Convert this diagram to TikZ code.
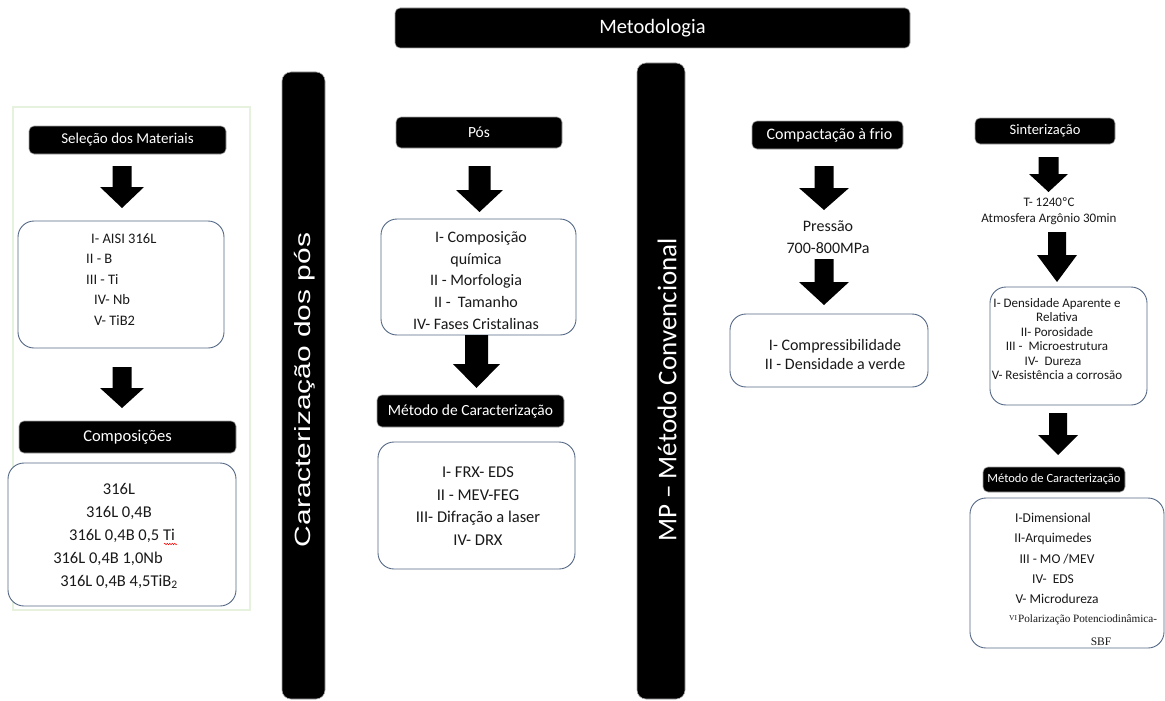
\documentclass[tikz,border=0pt]{standalone}
\usepackage{graphicx}
\usepackage{fontspec}
\setmainfont{Carlito}
\newfontfamily\arialf{Liberation Sans}
\newfontfamily\timesf{Liberation Serif}
\usetikzlibrary{decorations.pathmorphing}
\definecolor{boxc}{RGB}{85,105,135}
\definecolor{panelc}{RGB}{230,242,222}
\definecolor{txtc}{RGB}{25,25,25}
\newcommand\fs[2]{\fontsize{#1pt}{#2pt}\selectfont}
% x, ytop, yhead, ybot, shaft half, head half
\newcommand\blockarr[6]{%
  \fill[black] ({#1-#5},#2) -- ({#1+#5},#2) -- ({#1+#5},#3) -- ({#1+#6},#3)
    -- (#1,#4) -- ({#1-#6},#3) -- ({#1-#5},#3) -- cycle;}
\tikzset{
  blk/.style={fill=black, draw=black!35, line width=0.6pt, rounded corners=5pt,
    text=white, inner sep=0pt},
  rbox/.style={draw=boxc, line width=0.9pt, rounded corners=16pt, fill=white, inner sep=0pt},
  vbar/.style={fill=black, draw=black!35, line width=0.6pt, rounded corners=9pt, inner sep=0pt},
  tx/.style={text=txtc, inner sep=0pt, align=center},
}
\begin{document}
\begin{tikzpicture}[x=1pt,y=-1pt]
\useasboundingbox (0,0) rectangle (1165,701);
\fill[white] (0,0) rectangle (1165,701);

% top bar
\node[blk, minimum width=515pt, minimum height=40pt, font=\fs{20.5}{24}] (meto) at (652.5,28) {Metodologia};

% vertical bars
\node[vbar, minimum width=43pt, minimum height=627pt] (cbar) at (303.5,385.5) {};
\node[text=white, rotate=90, inner sep=0pt, font=\arialf\fs{22}{26}] (cbart) at (305,390)
  {\scalebox{1.36}[1]{Caracterização dos pós}};
\node[vbar, minimum width=48pt, minimum height=636pt] (mbar) at (661,381) {};
\node[text=white, rotate=90, inner sep=0pt, font=\fs{27}{30}] (mbart) at (667,390)
  {MP – Método Convencional};

% left panel
\draw[panelc, line width=2pt, fill=white] (13,107) rectangle (250,610);
\node[blk, minimum width=197pt, minimum height=28pt, font=\fs{15}{18}] (sel) at (127.5,140)
  {Seleção dos Materiais\hspace{15pt}};
\blockarr{122}{166}{187}{208}{9.5}{22}
\node[rbox, minimum width=206pt, minimum height=127pt] (b1) at (121,284.5) {};
\node[tx, align=left, anchor=west, font=\fs{14.5}{20.5}] (b1t) at (86,279.5)
  {\hspace*{5pt}I- AISI 316L\\II - B\\III - Ti\\\hspace*{8pt}IV- Nb\\\hspace*{8pt}V- TiB2};
\blockarr{122}{367}{388}{408}{9.5}{22}
\node[blk, minimum width=217pt, minimum height=32pt, font=\fs{16.5}{20}] (comp) at (127.5,437) {Composições};
\node[rbox, minimum width=228pt, minimum height=143pt] (b2) at (122,534.5) {};
\node[tx, font=\fs{16.5}{23}] (b2t) at (119,536)
  {316L\\316L 0,4B\\\hspace*{6pt}316L 0,4B 0,5 Ti\\316L 0,4B 1,0Nb\hspace{22pt}\strut\\316L 0,4B 4,5TiB\textsubscript{2}};
\draw[red, line width=0.5pt, decorate, decoration={snake, amplitude=0.7pt, segment length=2.5pt}]
  (164,544) -- (177,544);

% middle column
\node[blk, minimum width=166pt, minimum height=31pt, font=\fs{15.5}{18}] (pos) at (479,132.5) {Pós};
\blockarr{479.5}{166}{190}{212}{11}{23.5}
\node[rbox, minimum width=195pt, minimum height=116pt] (b3) at (478.5,277) {};
\node[tx, font=\fs{16}{21.75}] (b3t) at (476,280.5)
  {\hspace*{10pt}I- Composição\\química\\II - Morfologia\\II - \ Tamanho\\IV- Fases Cristalinas};
\blockarr{476.5}{335}{364}{388}{11.5}{23.5}
\node[blk, minimum width=187pt, minimum height=32pt, font=\fs{15.5}{18}] (met1) at (470.5,411) {Método de Caracterização};
\node[rbox, minimum width=197pt, minimum height=127pt] (b4) at (476.5,505.5) {};
\node[tx, font=\fs{16.5}{22.7}] (b4t) at (478,506)
  {I- FRX- EDS\\II - MEV-FEG\\III- Difração a laser\\IV- DRX};

% compactacao column
\node[blk, minimum width=151pt, minimum height=28pt, font=\fs{16}{18}] (cfrio) at (827.5,135) {\hspace{4pt}Compactação à frio};
\blockarr{824}{166}{188}{210}{9.5}{25}
\node[tx, font=\fs{16}{22}] (pres) at (828,237) {Pressão\\700-800MPa};
\blockarr{824}{259}{282}{305}{9.5}{25}
\node[rbox, minimum width=198pt, minimum height=73pt] (b5) at (829,350.5) {};
\node[tx, font=\fs{16}{19}] (b5t) at (835,354.5) {I- Compressibilidade\\II - Densidade a verde};

% sinterizacao column
\node[blk, minimum width=140pt, minimum height=26pt, font=\fs{14.5}{17}] (sint) at (1045,131) {Sinterização};
\blockarr{1048.5}{157}{174}{192}{10}{19.5}
\node[tx, font=\fs{13}{16}] (sintt) at (1049,211) {T- 1240ºC\\Atmosfera Argônio 30min};
\blockarr{1057}{232}{255}{282}{9}{20}
\node[rbox, minimum width=157pt, minimum height=118pt] (b6) at (1068.5,346) {};
\node[tx, font=\fs{13}{14.4}] (b6t) at (1057,339)
  {I- Densidade Aparente e\\Relativa\\II- Porosidade\\III - \ Microestrutura\\IV- \ Dureza\hspace{8pt}\strut\\V- Resistência a corrosão};
\blockarr{1058}{413}{435}{455}{9}{20}
\node[blk, minimum width=142pt, minimum height=25pt, font=\fs{12.5}{15}] (met2) at (1054,479.5) {Método de Caracterização};
\node[rbox, minimum width=194pt, minimum height=150pt] (b7) at (1067,573) {};
\node[tx, font=\fs{13.5}{20.25}] (b7t) at (1053,558.5)
  {I-Dimensional\\II-Arquimedes\\\hspace*{8pt}III - MO /MEV\\IV- \ EDS\\\hspace*{8pt}V- Microdureza};
\node[tx, anchor=west, font=\timesf\fs{11.2}{14}] (b7p) at (1009,620)
  {\raisebox{2.5pt}{\fs{7.5}{9}VI}\hspace{1pt}Polarização Potenciodinâmica-};
\node[tx, font=\timesf\fs{11.5}{14}] (b7s) at (1101,642) {SBF};
\end{tikzpicture}
\end{document}
